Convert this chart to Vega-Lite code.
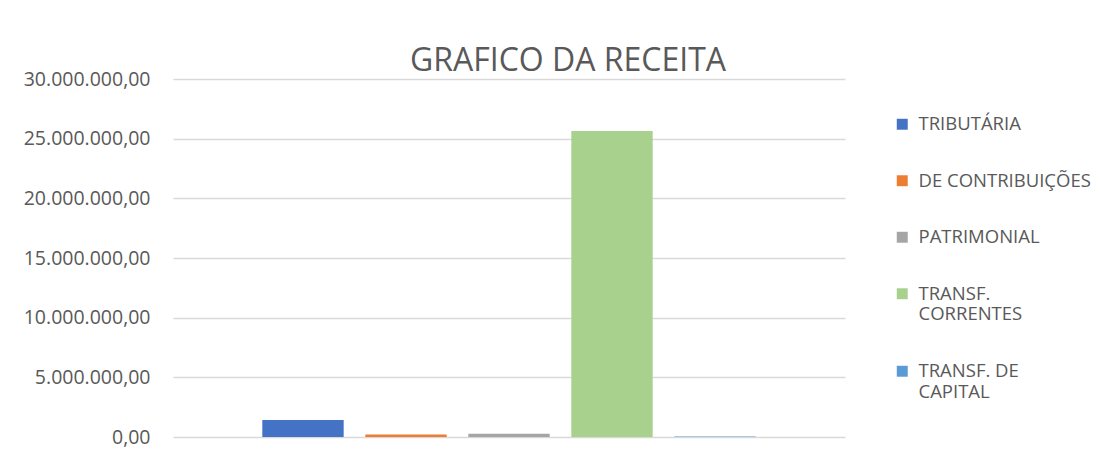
{
  "$schema": "https://vega.github.io/schema/vega-lite/v6.json",
  "width": 672,
  "height": 358,
  "autosize": {"type": "none"},
  "padding": {"left": 173, "top": 79, "right": 271, "bottom": 17},
  "background": "white",
  "config": {
    "view": {"stroke": null},
    "font": "Open Sans",
    "locale": {"number": {"decimal": ",", "thousands": ".", "grouping": [3], "currency": ["R$", ""]}}
  },
  "title": {
    "text": "GRAFICO DA RECEITA",
    "font": "Open Sans",
    "fontSize": 32,
    "fontWeight": "normal",
    "color": "#595959",
    "anchor": "middle",
    "dx": 59,
    "offset": -9
  },
  "data": {
    "values": [
      {"categoria": "TRIBUTÁRIA", "valor": 1420000},
      {"categoria": "DE CONTRIBUIÇÕES", "valor": 210000},
      {"categoria": "PATRIMONIAL", "valor": 280000},
      {"categoria": "TRANSF. CORRENTES", "valor": 25650000},
      {"categoria": "TRANSF. DE CAPITAL", "valor": 50000}
    ]
  },
  "mark": {"type": "bar"},
  "encoding": {
    "x": {
      "field": "categoria",
      "type": "nominal",
      "sort": null,
      "axis": null,
      "scale": {"paddingInner": 0.21, "paddingOuter": 0.867}
    },
    "y": {
      "field": "valor",
      "type": "quantitative",
      "scale": {"domain": [0, 30000000]},
      "axis": {
        "title": null,
        "format": ",.2f",
        "values": [0, 5000000, 10000000, 15000000, 20000000, 25000000, 30000000],
        "domain": false,
        "ticks": false,
        "labelFont": "Open Sans",
        "labelFontSize": 19.5,
        "labelColor": "#595959",
        "labelPadding": 23,
        "gridColor": "#d9d9d9",
        "gridWidth": 1.3
      }
    },
    "color": {
      "field": "categoria",
      "type": "nominal",
      "sort": null,
      "scale": {
        "domain": ["TRIBUTÁRIA", "DE CONTRIBUIÇÕES", "PATRIMONIAL", "TRANSF. CORRENTES", "TRANSF. DE CAPITAL"],
        "range": ["#4472C4", "#ED7D31", "#A5A5A5", "#A9D18E", "#5B9BD5"]
      },
      "legend": {
        "title": null,
        "orient": "none",
        "legendX": 720,
        "legendY": 36,
        "padding": 0,
        "symbolType": "square",
        "symbolSize": 120,
        "symbolStrokeWidth": 0,
        "labelFont": "Open Sans",
        "labelFontSize": 18.5,
        "labelColor": "#595959",
        "labelOffset": 7,
        "labelBaseline": "middle",
        "rowPadding": 37.5,
        "labelLimit": 300,
        "labelExpr": "datum.label == 'TRANSF. CORRENTES' ? ['TRANSF.', 'CORRENTES'] : (datum.label == 'TRANSF. DE CAPITAL' ? ['TRANSF. DE', 'CAPITAL'] : datum.label)"
      }
    }
  }
}
